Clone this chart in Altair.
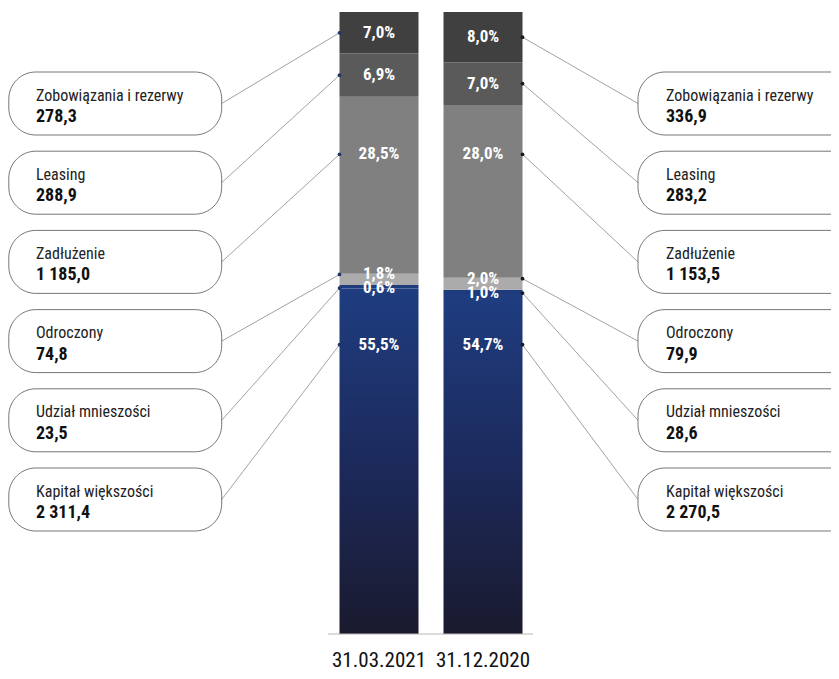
import altair as alt
import pandas as pd

# ---------------- data ----------------
dates = ["31.03.2021", "31.12.2020"]
# stacked bottom -> top
categories = ["Kapitał większości", "Udział mnieszości", "Odroczony",
              "Zadłużenie", "Leasing", "Zobowiązania i rezerwy"]
values_2021 = [2311.4, 23.5, 74.8, 1185.0, 288.9, 278.3]
values_2020 = [2270.5, 28.6, 79.9, 1153.5, 283.2, 336.9]
share_labels_2021 = ["55,5%", "0,6%", "1,8%", "28,5%", "6,9%", "7,0%"]
share_labels_2020 = ["54,7%", "1,0%", "2,0%", "28,0%", "7,0%", "8,0%"]
seg_colors = ["#1e3b7c", "#1e3b7c", "#ababab", "#808080", "#5a5a5a", "#404040"]


def fmt(v):
    s = f"{v:,.1f}"
    return s.replace(",", " ").replace(".", ",")


rows = []
for idx, (d, vals, shares) in enumerate(
        [(dates[0], values_2021, share_labels_2021),
         (dates[1], values_2020, share_labels_2020)]):
    for order, (c, v, s) in enumerate(zip(categories, vals, shares)):
        rows.append({"date": d, "idx": idx, "cat": c, "order": order,
                     "value": v, "share": s, "amount": fmt(v)})
df = pd.DataFrame(rows)

# ---------------- layout ----------------
W, H = 823, 663
BAR_TOP_PX, BAR_BOT_PX = 4, 626
K = (BAR_BOT_PX - BAR_TOP_PX) / 100.0
Y_DOMAIN = [(BAR_BOT_PX - H) / K, BAR_BOT_PX / K]
BAR_X0, BAR_STEP, BAR_W = 331.5, 104, 79
BOX_CY0, BOX_STEP, BOX_H = 95.5, 79.2, 63
FONT = "Roboto Condensed, Liberation Sans Narrow, DejaVu Sans Condensed, sans-serif"

xs = alt.Scale(domain=[0, W], range=[0, W], nice=False, zero=False)
ys = alt.Scale(domain=Y_DOMAIN, nice=False, zero=False)

base = (
    alt.Chart(df)
    .transform_joinaggregate(total="sum(value)", groupby=["date"])
    .transform_calculate(pct="100 * datum.value / datum.total")
    .transform_stack(stack="pct", groupby=["date"], as_=["v0", "v1"],
                     sort=[alt.SortField("order", order="ascending")])
    .transform_calculate(mid="(datum.v0 + datum.v1) / 2",
                         seg="datum.v1 - datum.v0")
    .transform_joinaggregate(meanTop="mean(v1)", groupby=["cat"])
    .transform_calculate(
        anchor="datum.seg < 10 ? datum.mid + (datum.order == 2 ? 0.8 : datum.order == 1 ? -0.2 : 0)"
               " : datum.meanTop - 8.6",
        barL=f"{BAR_X0} + datum.idx * {BAR_STEP}",
    )
    .transform_calculate(
        barR=f"datum.barL + {BAR_W}",
        barM=f"datum.barL + {BAR_W / 2}",
        boxC=f"({BAR_BOT_PX} - ({BOX_CY0} + (5 - datum.order) * {BOX_STEP})) / {K}",
    )
    .transform_calculate(
        boxTop=f"datum.boxC + {BOX_H / 2 / K}",
        boxBot=f"datum.boxC - {BOX_H / 2 / K}",
        edge="datum.idx == 0 ? datum.barL : datum.barR",
        bx0="datum.idx == 0 ? 0.8 : 630",
        bx1="datum.idx == 0 ? 213.7 : 850",
        tx="datum.idx == 0 ? 28 : 658",
        dotColor="datum.idx == 0 ? '#1f3566' : '#1a1a1a'",
    )
    .transform_calculate(lineX="datum.idx == 0 ? datum.bx1 : datum.bx0")
)

bars = base.transform_filter("datum.order > 0").mark_rect().encode(
    x=alt.X("barL:Q", scale=xs, axis=None), x2="barR:Q",
    y=alt.Y("v0:Q", scale=ys, axis=None), y2="v1:Q",
    color=alt.Color("cat:N", scale=alt.Scale(domain=categories, range=seg_colors), legend=None),
)

grad = alt.Gradient(gradient="linear",
                    stops=[alt.GradientStop(color="#1f3d80", offset=0),
                           alt.GradientStop(color="#1c2a5c", offset=0.5),
                           alt.GradientStop(color="#1a1a2e", offset=1)],
                    x1=0, x2=0, y1=0, y2=1)
main_bar = base.transform_filter("datum.order == 0").mark_rect(color=grad).encode(
    x=alt.X("barL:Q", scale=xs, axis=None), x2="barR:Q",
    y=alt.Y("v0:Q", scale=ys, axis=None), y2="v1:Q",
)

baseline = alt.Chart(pd.DataFrame({"v": [0]})).mark_rule(color="#b5b5b5", strokeWidth=1.2).encode(
    x=alt.value(320), x2=alt.value(525),
    y=alt.Y("v:Q", scale=ys, axis=None),
)

leaders = base.mark_rule(color="#8a8a8a", strokeWidth=0.8).encode(
    x=alt.X("lineX:Q", scale=xs, axis=None), x2="edge:Q",
    y=alt.Y("boxC:Q", scale=ys, axis=None), y2="anchor:Q",
)

boxes = base.mark_rect(fill="white", stroke="#666666", strokeWidth=0.9,
                       cornerRadius=27, clip=True).encode(
    x=alt.X("bx0:Q", scale=xs, axis=None), x2="bx1:Q",
    y=alt.Y("boxTop:Q", scale=ys, axis=None), y2="boxBot:Q",
)

dots = base.mark_circle(size=14, opacity=1).encode(
    x=alt.X("edge:Q", scale=xs, axis=None),
    y=alt.Y("anchor:Q", scale=ys, axis=None),
    color=alt.Color("dotColor:N", scale=None),
)

shares = base.mark_text(color="white", font=FONT, fontSize=17, fontWeight="bold",
                        baseline="middle", align="center").encode(
    x=alt.X("barM:Q", scale=xs, axis=None),
    y=alt.Y("anchor:Q", scale=ys, axis=None),
    text="share:N",
)

names = base.mark_text(color="#222222", font=FONT, fontSize=16, align="left",
                       baseline="alphabetic", dy=-3).encode(
    x=alt.X("tx:Q", scale=xs, axis=None),
    y=alt.Y("boxC:Q", scale=ys, axis=None),
    text="cat:N",
)

amounts = base.mark_text(color="#111111", font=FONT, fontSize=18, fontWeight="bold",
                         align="left", baseline="alphabetic", dy=18.5).encode(
    x=alt.X("tx:Q", scale=xs, axis=None),
    y=alt.Y("boxC:Q", scale=ys, axis=None),
    text="amount:N",
)

date_labels = base.transform_filter("datum.order == 0").mark_text(
    color="#111111", font=FONT, fontSize=21, baseline="middle", align="center").encode(
    x=alt.X("barM:Q", scale=xs, axis=None),
    y=alt.value(653),
    text="date:N",
)

chart = alt.layer(
    bars, main_bar, baseline, leaders, boxes, dots, shares, names, amounts, date_labels
).properties(
    width=W, height=H, padding=0, autosize=alt.AutoSizeParams(type="none")
).configure_view(stroke=None)

chart.save("out.html", embed_options={"renderer": "svg", "actions": False})
